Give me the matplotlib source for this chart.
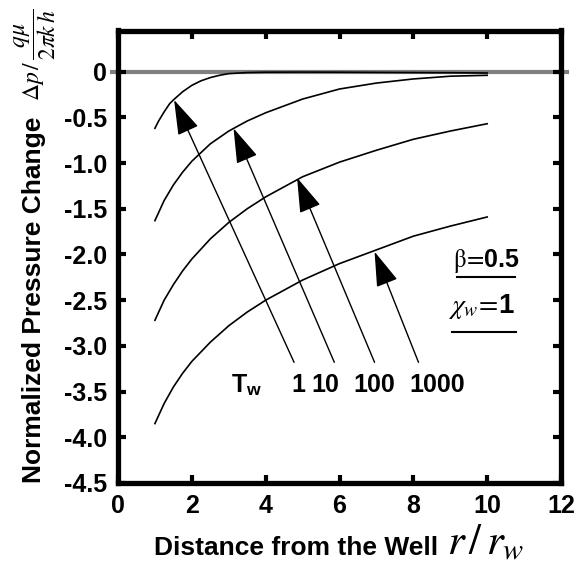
import matplotlib
matplotlib.use('Agg')
import matplotlib.pyplot as plt

plt.rcParams['font.family'] = 'Liberation Sans'
plt.rcParams['mathtext.fontset'] = 'custom'
plt.rcParams['mathtext.rm'] = 'STIXGeneral'
plt.rcParams['mathtext.it'] = 'STIXGeneral:italic'
plt.rcParams['mathtext.bf'] = 'Liberation Sans:bold'

# r/rw values and normalized pressure change for Tw = 1, 10, 100, 1000
r1 = [1, 1.1, 1.25, 1.4, 1.5, 1.75, 2, 2.25, 2.5, 2.75, 3, 3.5, 4, 5, 6, 7, 8, 9, 10]
p1 = [-0.62, -0.54, -0.44, -0.35, -0.31, -0.22, -0.15, -0.10, -0.065, -0.04, -0.022, -0.01,
      -0.006, -0.005, -0.006, -0.008, -0.01, -0.012, -0.015]
r_all = [1, 1.25, 1.5, 1.75, 2, 2.5, 3, 3.5, 4, 5, 6, 7, 8, 9, 10]
p10 = [-1.63, -1.41, -1.24, -1.10, -0.98, -0.79, -0.65, -0.54, -0.45, -0.30, -0.19, -0.125,
       -0.08, -0.05, -0.04]
p100 = [-2.72, -2.50, -2.33, -2.18, -2.05, -1.83, -1.65, -1.50, -1.37, -1.15, -0.99, -0.86,
        -0.74, -0.65, -0.57]
p1000 = [-3.85, -3.63, -3.45, -3.30, -3.17, -2.96, -2.78, -2.63, -2.50, -2.28, -2.10, -1.95,
         -1.80, -1.69, -1.59]

tw_labels = ['1', '10', '100', '1000']
label_x = [4.88, 5.61, 6.93, 8.64]
arrow_tip = [(1.52, -0.31), (3.13, -0.62), (4.85, -1.16), (6.95, -1.97)]
arrow_tail = [(4.77, -3.18), (5.86, -3.18), (6.95, -3.18), (8.14, -3.18)]

xticks = [0, 2, 4, 6, 8, 10, 12]
yticks = [0, -0.5, -1.0, -1.5, -2.0, -2.5, -3.0, -3.5, -4.0, -4.5]
ytick_labels = ['0', '-0.5', '-1.0', '-1.5', '-2.0', '-2.5', '-3.0', '-3.5', '-4.0', '-4.5']

fs = 18

fig = plt.figure(figsize=(5.79, 5.71), dpi=100)
ax = fig.add_axes([118/579, 1-483/571, (561-118)/579, (483-30.5)/571])

ax.plot([-0.15, 12.15], [0, 0], color='#808080', lw=3, clip_on=False, zorder=1)
for p, r in [(p1, r1), (p10, r_all), (p100, r_all), (p1000, r_all)]:
    ax.plot(r, p, color='black', lw=1.2, zorder=2)

for i in range(4):
    ax.annotate('', xy=arrow_tip[i], xytext=arrow_tail[i],
                arrowprops=dict(arrowstyle='-|>,head_length=2.2,head_width=0.7',
                                color='black', lw=1, shrinkA=0, shrinkB=0,
                                mutation_scale=10))
    ax.text(label_x[i], -3.43, tw_labels[i], fontsize=fs, fontweight='bold',
            ha='center', va='center')
ax.text(3.49, -3.43, r'T$_{\mathbf{w}}$', fontsize=fs, fontweight='bold',
        ha='center', va='center')

ax.text(9.08, -2.14, r'$\mathrm{\beta}\!=\!\mathbf{0.5}$', fontsize=18, ha='left', va='baseline')
ax.text(8.95, -2.64, r'$\chi_w\!=\!\mathbf{1}$', fontsize=20, ha='left', va='baseline')
ax.plot([9.17, 10.75], [-2.25, -2.25], color='black', lw=1.5)
ax.plot([9.06, 10.79], [-2.85, -2.85], color='black', lw=1.5)

ax.set_xlim(0, 12)
ax.set_ylim(-4.5, 0.45)
ax.set_xticks(xticks)
ax.set_yticks(yticks)
ax.set_yticklabels(ytick_labels)
ax.tick_params(direction='in', length=6, width=3, labelsize=fs, top=True, right=True,
               labeltop=False, labelright=False)
ax.tick_params(axis='x', pad=8)
ax.tick_params(axis='y', pad=8)
for lab in ax.get_xticklabels() + ax.get_yticklabels():
    lab.set_fontweight('bold')
for s in ax.spines.values():
    s.set_linewidth(3.8)

fig.text(438/579, 1-555/571, 'Distance from the Well', fontsize=19, fontweight='bold',
         ha='right', va='baseline')
fig.text(447/579, 1-555/571, r'$r\,/\,r_w$', fontsize=31, ha='left', va='baseline')

fig.text(34/579, 1-300/571, 'Normalized Pressure Change', fontsize=19, fontweight='bold',
         rotation=90, ha='center', va='center')
fig.text(35/579, 1-55/571, r'$\Delta p\,/\,\dfrac{q\mu}{2\pi k\,h}$', fontsize=17, rotation=90,
         ha='center', va='center')

fig.savefig('out.png', dpi=100)
